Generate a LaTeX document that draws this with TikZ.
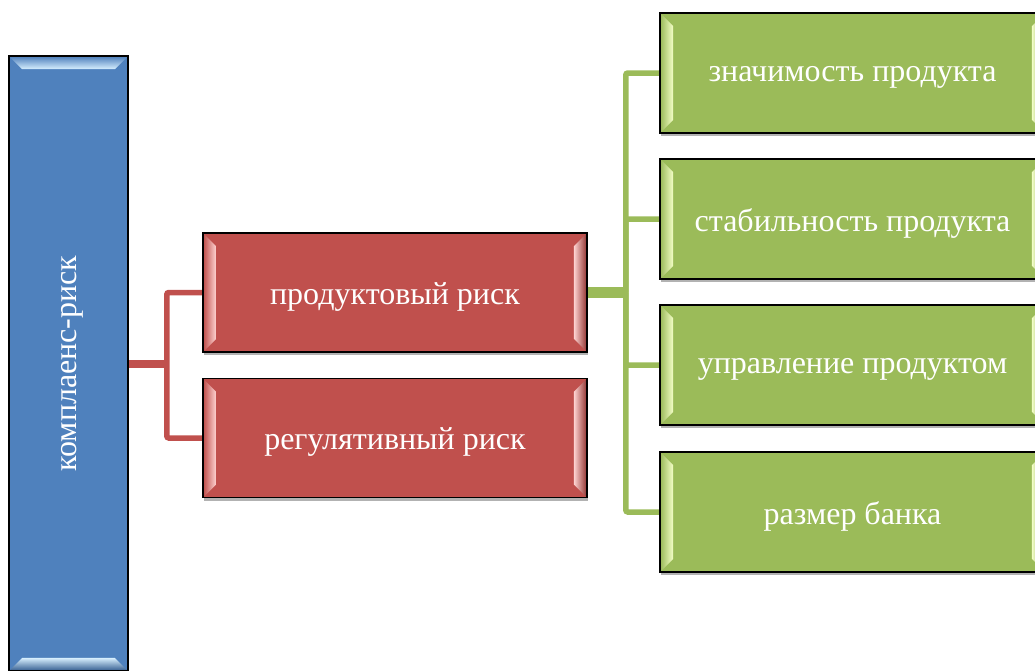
\documentclass[tikz,border=0pt]{standalone}
\usepackage{fontspec}
\setmainfont{Liberation Serif}
\usetikzlibrary{calc,shadows,backgrounds}

\definecolor{bluebox}{HTML}{4F81BD}
\definecolor{bluehl}{HTML}{D8F0FF}
\definecolor{redbox}{HTML}{C0504D}
\definecolor{redhl}{HTML}{FFD4D2}
\definecolor{greenbox}{HTML}{9BBB59}
\definecolor{greenhl}{HTML}{F4FFC8}

% label text, set a little below the optical centre of its box
\newcommand\boxtext[1]{\raisebox{-4pt}[\height][\depth]{#1}}

% bevel strips on the left and right of a horizontal box
\newcommand\sidebevel[3]{%
  \shade[left color=#2!95!white, right color=#3]
    ($(#1.north west)+(2,2)$) -- ($(#1.north west)+(14,14)$) --
    ($(#1.south west)+(14,-14)$) -- ($(#1.south west)+(2,-2)$) -- cycle;
  \shade[left color=#3, right color=#2!80!black]
    ($(#1.north east)+(-14,14)$) -- ($(#1.north east)+(-2,2)$) --
    ($(#1.south east)+(-2,-2)$) -- ($(#1.south east)+(-14,-14)$) -- cycle;
}
% bevel strips on the top and bottom of a vertical box
\newcommand\topbevel[3]{%
  \shade[top color=#2!95!white, bottom color=#3]
    ($(#1.north west)+(2,2)$) -- ($(#1.north east)+(-2,2)$) --
    ($(#1.north east)+(-14,14)$) -- ($(#1.north west)+(14,14)$) -- cycle;
  \shade[top color=#3, bottom color=#2!80!black]
    ($(#1.south west)+(14,-14)$) -- ($(#1.south east)+(-14,-14)$) --
    ($(#1.south east)+(-2,-2)$) -- ($(#1.south west)+(2,-2)$) -- cycle;
}

\begin{document}
\begin{tikzpicture}[x=1pt,y=-1pt,
  box/.style={rectangle, draw=black, line width=1.6pt, inner sep=0pt,
    text=white, font=\fontsize{32}{36}\selectfont,
    drop shadow={shadow xshift=1pt, shadow yshift=-3pt, opacity=0.3, fill=black}},
  redbx/.style={box, fill=redbox, minimum width=384pt, minimum height=119pt},
  greenbx/.style={box, fill=greenbox, minimum width=385pt, minimum height=120pt},
  redline/.style={draw=redbox, rounded corners=2pt},
  greenline/.style={draw=greenbox, rounded corners=2pt}]

\useasboundingbox (0,0) rectangle (1035,670);
\clip (0,0) rectangle (1035,670);

% boxes
\node[box, fill=bluebox, minimum width=119pt, minimum height=615pt] (blue) at (68.5,363.5) {\rotatebox{90}{\boxtext{комплаенс-риск}}};
\topbevel{blue}{bluebox}{bluehl}

\node[redbx] (r1) at (395,292.5) {\boxtext{продуктовый риск}};
\sidebevel{r1}{redbox}{redhl}
\node[redbx] (r2) at (395,438) {\boxtext{регулятивный риск}};
\sidebevel{r2}{redbox}{redhl}

\node[greenbx] (g1) at (852.5,73) {\boxtext{значимость продукта}};
\sidebevel{g1}{greenbox}{greenhl}
\node[greenbx] (g2) at (852.5,219) {\boxtext{стабильность продукта}};
\sidebevel{g2}{greenbox}{greenhl}
\node[greenbx] (g3) at (852.5,365) {\boxtext{управление продуктом}};
\sidebevel{g3}{greenbox}{greenhl}
\node[greenbx] (g4) at (852.5,512) {\boxtext{размер банка}};
\sidebevel{g4}{greenbox}{greenhl}

% connectors
\begin{pgfonlayer}{background}
  \coordinate (rj) at ($(blue.east)+(38,0)$);
  \coordinate (gj) at ($(r1.east)+(38,0)$);
  \draw[redline, line width=8pt] (blue.east) -- (rj);
  \draw[redline, line width=5.5pt] (r1.west) -| (rj) |- (r2.west);
  \draw[greenline, line width=11pt] (r1.east) -- (gj);
  \draw[greenline, line width=5.5pt] (g1.west) -| (gj) |- (g4.west);
  \draw[greenline, line width=5.5pt] (gj) |- (g2.west);
  \draw[greenline, line width=5.5pt] (gj) |- (g3.west);
\end{pgfonlayer}
\end{tikzpicture}
\end{document}
